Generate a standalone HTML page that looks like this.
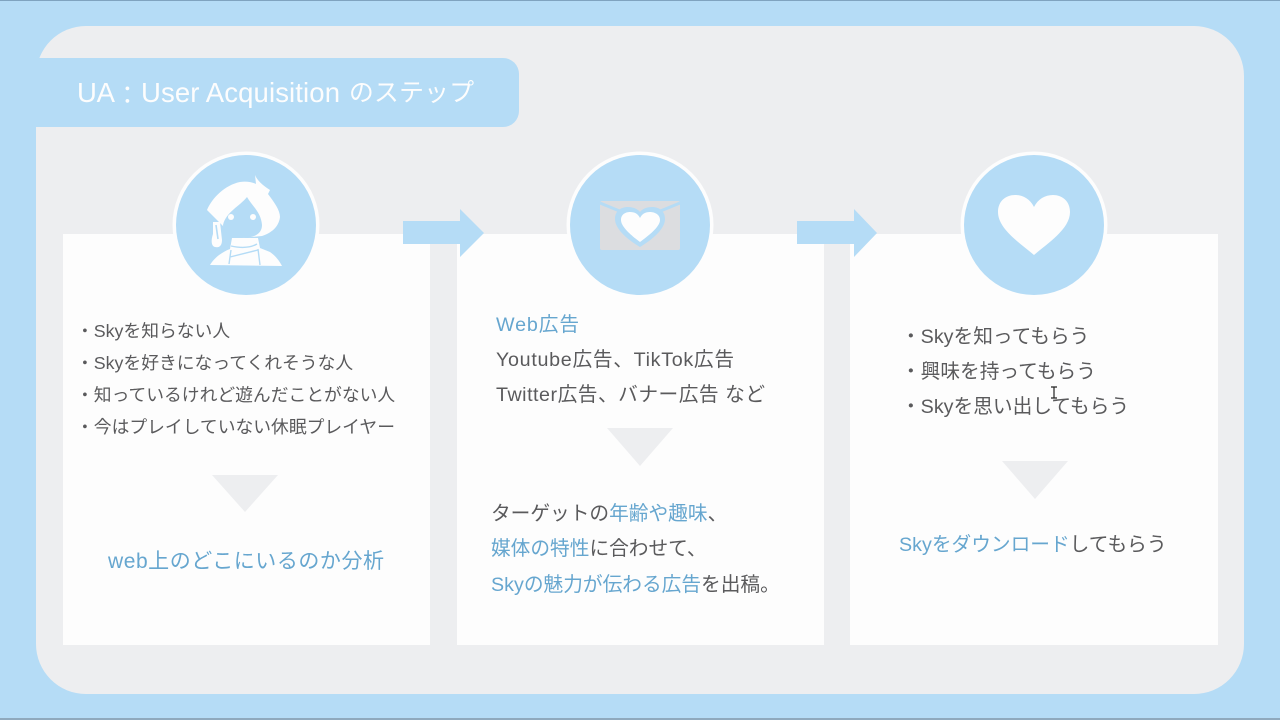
<!DOCTYPE html>
<html lang="ja"><head><meta charset="utf-8"><title>UA: User Acquisition</title>
<style>
html,body{margin:0;padding:0;width:1280px;height:720px;overflow:hidden;background:#b5dcf6}
svg{display:block}
text{font-family:"Liberation Sans","Noto Sans CJK JP",sans-serif;fill:#5a5a5c}
tspan.b{fill:#66a6cf}
.s{font-size:17.8px}
.m{font-size:19.7px}
.t{font-size:27.5px;fill:#fdfdfd}
.tj{font-size:24.8px;fill:#fdfdfd}
</style></head><body>
<svg width="1280" height="720" viewBox="0 0 1280 720" xmlns="http://www.w3.org/2000/svg">
<rect width="1280" height="720" fill="#b5dcf6"/>
<rect width="1280" height="1" fill="#7fa3bf"/>
<rect y="718" width="1280" height="2" fill="#8fa9bd"/>
<rect x="36" y="26" width="1208" height="668" rx="50" ry="50" fill="#edeef0"/>
<path d="M36 58H503a16 16 0 0 1 16 16V111a16 16 0 0 1-16 16H36Z" fill="#b5dcf6"/>
<text class="t" x="77" y="102" textLength="38">UA</text>
<text class="tj" x="115" y="104">：</text>
<text class="t" x="141" y="102" textLength="199">User Acquisition</text>
<text class="tj" x="349" y="101" textLength="125">のステップ</text>

<rect x="63" y="234" width="367" height="411" fill="#fdfdfd"/>
<rect x="457" y="234" width="367" height="411" fill="#fdfdfd"/>
<rect x="850" y="234" width="368" height="411" fill="#fdfdfd"/>

<path d="M403 221H460V209L484 233L460 257V244H403Z" fill="#b5dcf6"/>
<path d="M797 221H854V209L877 233L854 257V244H797Z" fill="#b5dcf6"/>

<circle cx="246" cy="225" r="73.5" fill="#fdfdfd"/><circle cx="246" cy="225" r="70" fill="#b5dcf6"/>
<circle cx="640" cy="225" r="73.5" fill="#fdfdfd"/><circle cx="640" cy="225" r="70" fill="#b5dcf6"/>
<circle cx="1034" cy="225" r="73.5" fill="#fdfdfd"/><circle cx="1034" cy="225" r="70" fill="#b5dcf6"/>

<!-- person -->
<g fill="#fdfdfd">
<path d="M255 175C257 180 262 185 270 190L268 194C274 202 280 210 280 217C279 225 274 232 262 236L240 238L223 226L216 219L207 210C212 198 225 185 240 182C246 181 252 182 256 184Z"/>
<path d="M213 222L220 222L222 240C222 246 219 248 215 247C211 246 211 240 213 234Z"/>
<path d="M232 238L258 238L260 248L270 252C276 256 280 262 282 266L210 265C214 258 222 252 230 249Z"/>
</g>
<path d="M247 197C240 206 226 212 223 225C224 234 232 238 242 238C254 238 262 234 262 225C261 212 252 206 247 197Z" fill="#b5dcf6"/>
<circle cx="231" cy="217" r="3" fill="#fdfdfd"/><circle cx="253" cy="217" r="3" fill="#fdfdfd"/>
<path d="M216 225L218 239" stroke="#b5dcf6" stroke-width="1.6" fill="none"/>
<path d="M231 246C240 248 250 248 257 244M231 250L229 264M258 249L260 265M230 257L258 250" stroke="#b5dcf6" stroke-width="1.4" fill="none"/>

<!-- envelope -->
<rect x="600" y="201" width="80" height="49" rx="2" fill="#dcdde0"/>
<path d="M600 203L622 212M680 203L658 212" stroke="#b5dcf6" stroke-width="3" fill="none"/>
<path d="M640 247C630 241 615 230 615 219C615 210 622 207 628 207C633 207 638 209 640 212C642 209 647 207 652 207C658 207 665 210 665 219C665 230 650 241 640 247Z" fill="#b5dcf6"/>
<path d="M640 242C632 236 621 227 621 220C621 214 626 212 630 212C635 212 638 214 640 218C642 214 645 212 650 212C654 212 660 214 660 220C660 227 648 236 640 242Z" fill="#fdfdfd"/>

<!-- heart -->
<path d="M1034 255C1020 243 998 229 998 212C998 201 1006 195 1015 195C1023 195 1030 199 1034 207C1038 199 1045 195 1053 195C1062 195 1070 201 1070 212C1070 229 1048 243 1034 255Z" fill="#fdfdfd"/>

<!-- triangles -->
<path d="M212 475H278L245 512Z" fill="#edeef0"/>
<path d="M607 428H673L640 466Z" fill="#edeef0"/>
<path d="M1002 461H1068L1035 499Z" fill="#edeef0"/>

<!-- card 1 -->
<text class="s" x="76" y="337">・Skyを知らない人</text>
<text class="s" x="76" y="369">・Skyを好きになってくれそうな人</text>
<text class="s" x="76" y="401">・知っているけれど遊んだことがない人</text>
<text class="s" x="76" y="433">・今はプレイしていない休眠プレイヤー</text>
<text x="108" y="568" font-size="21" style="fill:#66a6cf" textLength="276">web上のどこにいるのか分析</text>

<!-- card 2 -->
<text class="m" x="496" y="331" style="fill:#66a6cf" textLength="83">Web広告</text>
<text class="m" x="496" y="366" textLength="238">Youtube広告、TikTok広告</text>
<text class="m" x="496" y="401" textLength="269">Twitter広告、バナー広告 など</text>
<text class="m" x="491" y="520">ターゲットの<tspan class="b">年齢や趣味</tspan>、</text>
<text class="m" x="491" y="555"><tspan class="b">媒体の特性</tspan>に合わせて、</text>
<text class="m" x="491" y="591"><tspan class="b">Skyの魅力が伝わる広告</tspan>を出稿。</text>

<!-- card 3 -->
<text class="m" x="901" y="343">・Skyを知ってもらう</text>
<text class="m" x="901" y="378">・興味を持ってもらう</text>
<text class="m" x="901" y="413">・Skyを思い出してもらう</text>
<text class="m" x="899" y="551"><tspan class="b">Skyをダウンロード</tspan>してもらう</text>

<!-- cursor -->
<path d="M1051 387H1057M1054 387V398M1051 398H1057" stroke="#222" stroke-width="1.2" fill="none"/>
</svg>
</body></html>
